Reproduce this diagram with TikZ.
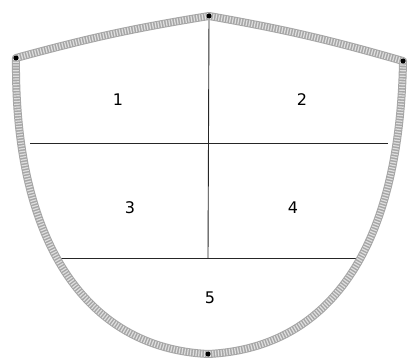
\documentclass[tikz,border=0pt]{standalone}
\usepackage{fontspec}
\setmainfont{DejaVu Sans}
\begin{document}
\begin{tikzpicture}[x=1pt,y=-1pt,
  rope/.style={line width=8pt,draw=gray!70,line join=round},
  ropehatch/.style={line width=6pt,draw=gray!25,dash pattern=on 1.2pt off 1.6pt,line join=round},
  divider/.style={line width=0.9pt,draw=black!85},
  corner/.style={circle,fill=black,inner sep=0pt,minimum size=5pt},
  num/.style={font=\fontsize{16}{16}\selectfont,text=black}]
\useasboundingbox (0,0) rectangle (409,361);
\coordinate (tl) at (16,58);
\coordinate (tt) at (209,16);
\coordinate (tr) at (403,61);
\coordinate (bb) at (208,354);
\coordinate (h1l) at (30,143);
\coordinate (h1r) at (388,143);
\coordinate (h2l) at (55,258);
\coordinate (h2r) at (362,258);
\coordinate (vm) at (208,258);
% dividers
\draw[divider] (tt) -- (vm);
\draw[divider] (h1l) -- (h1r);
\draw[divider] (h2l) -- (h2r);
% shield
\def\shieldpath{(tl) to[bend left=3] (tt) to[bend left=3] (tr) .. controls (400,240) and (335,348) .. (bb) .. controls (85,348) and (14,240) .. cycle}
\draw[rope] \shieldpath;
\draw[ropehatch] \shieldpath;
\node[corner] (ctl) at (tl) {};
\node[corner] (ctt) at (tt) {};
\node[corner] (ctr) at (tr) {};
\node[corner] (cbb) at (bb) {};
\node[num] (n1) at (118,100) {1};
\node[num] (n2) at (302,100) {2};
\node[num] (n3) at (130,208) {3};
\node[num] (n4) at (293,208) {4};
\node[num] (n5) at (210,298) {5};
\end{tikzpicture}
\end{document}
